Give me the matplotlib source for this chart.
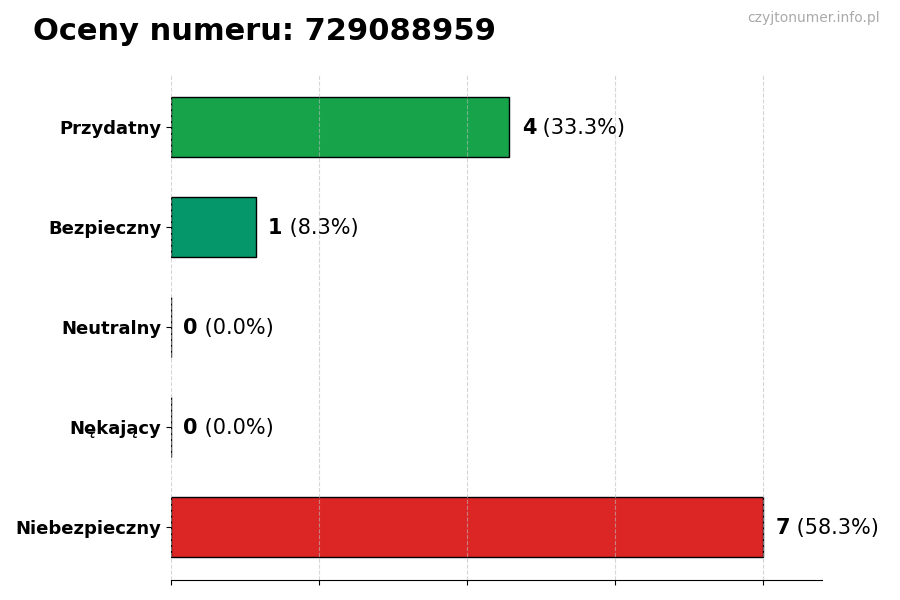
import matplotlib
matplotlib.use("Agg")
import matplotlib.pyplot as plt
import numpy as np

# data (bottom to top)
categories = ["Niebezpieczny", "Nękający", "Neutralny", "Bezpieczny", "Przydatny"]
counts = [7, 0, 0, 1, 4]
colors = ["#dc2626", "#f97316", "#6b7280", "#059669", "#16a34a"]
number = "729088959"

total = sum(counts)
ymax = max(counts)

fig = plt.figure(figsize=(9, 6), dpi=100)
ax = fig.add_axes([0.19, 0.0333, 0.7233, 0.8417])

y = np.arange(len(categories))
ax.barh(y, counts, height=0.6, color=colors, edgecolor="black", linewidth=1, zorder=2)

ax.set_xlim(0, ymax * 1.1)
ax.set_ylim(-0.53, 4.52)
ax.set_xticks(np.linspace(0, ymax, 5))
ax.set_xticklabels([])
ax.set_yticks(y)
ax.set_yticklabels(categories, fontsize=13, fontweight="bold")
ax.grid(axis="x", linestyle="--", color="#bbbbbb", alpha=0.6, linewidth=0.8, zorder=3)
ax.set_axisbelow(False)
for s in ["top", "right", "left"]:
    ax.spines[s].set_visible(False)

fig.canvas.draw()
renderer = fig.canvas.get_renderer()
for yi, c in zip(y, counts):
    pct = c / total * 100
    t = ax.annotate(str(c), (c, yi), xytext=(9, -1), textcoords="offset points",
                    fontsize=15, fontweight="bold", va="center", ha="left")
    bb = t.get_window_extent(renderer)
    w_pt = bb.width * 72 / fig.dpi
    ax.annotate(f" ({pct:.1f}%)", (c, yi), xytext=(9 + w_pt, -1), textcoords="offset points",
                fontsize=15, va="center", ha="left")

fig.text(0.037, 0.947, f"Oceny numeru: {number}", fontsize=22, fontweight="bold",
         ha="left", va="center")
fig.text(0.978, 0.97, "czyjtonumer.info.pl", fontsize=10, color="#aaaaaa",
         ha="right", va="center")

fig.savefig("out.png", dpi=100)
